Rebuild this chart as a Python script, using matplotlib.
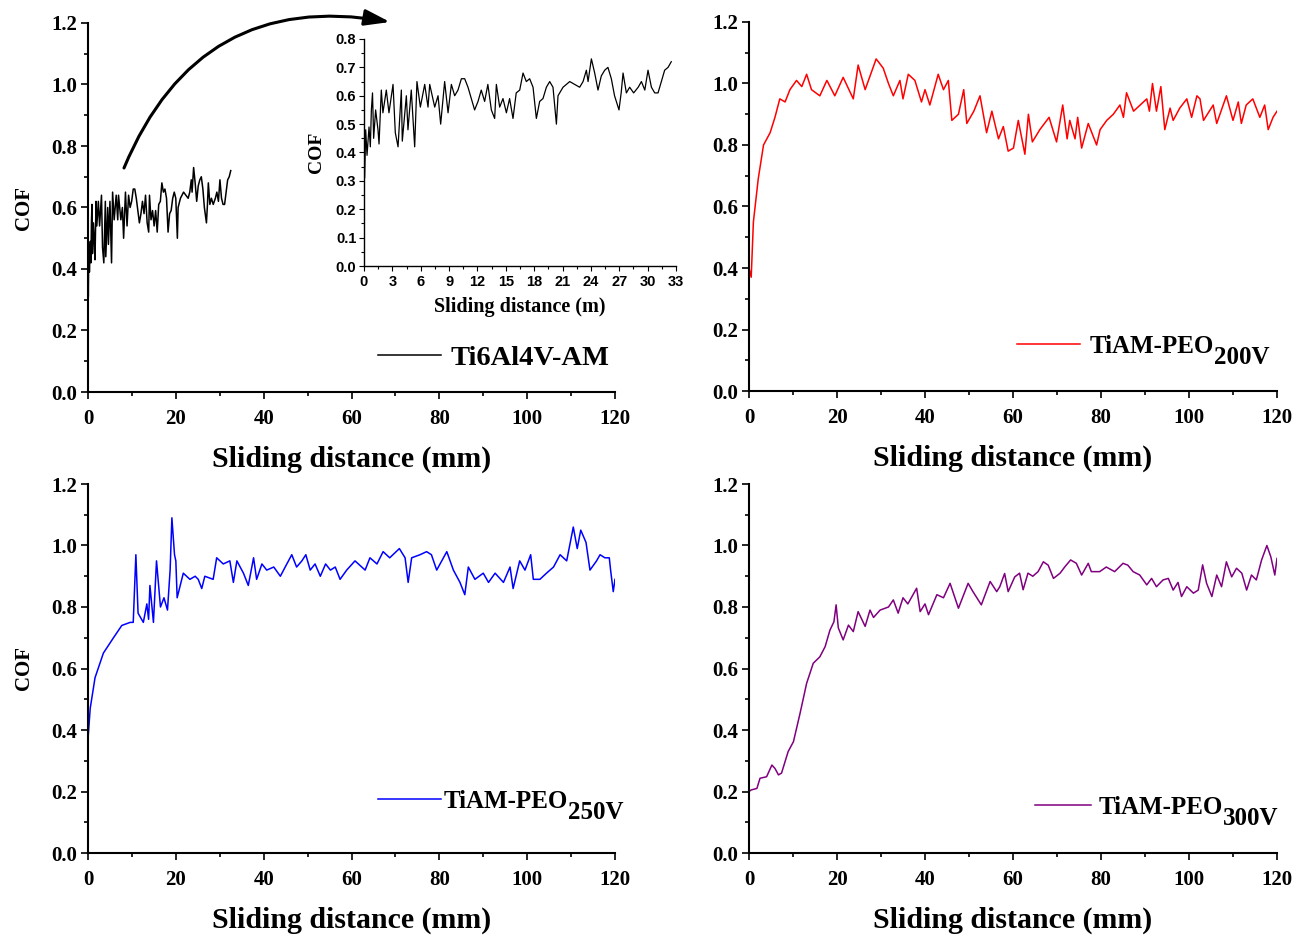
import matplotlib
matplotlib.use('Agg')
import matplotlib.pyplot as plt
from matplotlib.patches import FancyArrowPatch
from matplotlib.ticker import MultipleLocator

# Ti6Al4V-AM: sliding distance (mm) and COF (same trace is zoomed in the inset)
am_x = [0.0, 0.07, 0.18, 0.32, 0.53, 0.67, 0.78, 0.9, 1.02, 1.23,
        1.48, 1.59, 1.83, 2.0, 2.36, 2.64, 3.07, 3.31, 3.6, 3.95,
        4.05, 4.48, 4.65, 5.0, 5.36, 5.6, 5.96, 6.42, 6.77, 6.95,
        7.48, 7.83, 8.11, 8.53, 8.89, 9.24, 9.59, 9.94, 10.3, 10.65,
        11.0, 11.35, 11.7, 12.06, 12.4, 12.76, 13.1, 13.47, 13.82, 14.0,
        14.35, 14.7, 15.06, 15.4, 15.76, 16.1, 16.47, 16.82, 17.17, 17.52,
        17.88, 18.23, 18.58, 18.93, 19.29, 19.64, 19.99, 20.35, 20.52, 21.05,
        21.76, 22.28, 22.81, 23.17, 23.52, 23.7, 24.05, 24.4, 24.75, 25.1,
        25.46, 25.8, 26.16, 26.5, 26.97, 27.2, 27.4, 27.75, 28.1, 28.52,
        29.0, 29.34, 29.7, 30.04, 30.4, 30.75, 31.1, 31.45, 31.8, 32.16,
        32.5]
am_cof = [0.45, 0.31, 0.48, 0.39, 0.49, 0.42, 0.55, 0.61, 0.45, 0.55,
          0.48, 0.43, 0.62, 0.54, 0.62, 0.54, 0.64, 0.47, 0.42, 0.62,
          0.44, 0.60, 0.48, 0.62, 0.42, 0.65, 0.56, 0.64, 0.56, 0.64,
          0.56, 0.60, 0.50, 0.65, 0.54, 0.64, 0.60, 0.62, 0.66, 0.66,
          0.63, 0.59, 0.55, 0.58, 0.62, 0.58, 0.64, 0.55, 0.52, 0.64,
          0.56, 0.59, 0.54, 0.59, 0.52, 0.61, 0.62, 0.68, 0.65, 0.66,
          0.63, 0.52, 0.58, 0.59, 0.63, 0.65, 0.63, 0.50, 0.60, 0.63,
          0.65, 0.64, 0.63, 0.65, 0.69, 0.65, 0.73, 0.68, 0.62, 0.67,
          0.69, 0.70, 0.66, 0.60, 0.55, 0.61, 0.68, 0.61, 0.63, 0.61,
          0.63, 0.65, 0.62, 0.69, 0.63, 0.61, 0.61, 0.65, 0.69, 0.70,
          0.72]

# TiAM-PEO 200V
p200_x = [0, 0.5, 1.0, 2.1, 3.3, 4.8, 5.9, 7.0, 8.2, 9.3,
          10.8, 12.0, 13.1, 14.2, 16.1, 17.7, 19.5, 21.4, 23.7, 24.8,
          26.4, 27.9, 28.9, 30.5, 31.7, 32.8, 34.3, 35.0, 36.2, 37.7,
          39.2, 40.0, 41.1, 43.0, 44.2, 45.3, 46.1, 47.6, 48.8, 49.5,
          51.1, 52.5, 54.0, 55.2, 56.7, 57.8, 58.9, 60.1, 61.2, 62.7,
          63.5, 64.4, 66.1, 68.2, 69.9, 71.3, 72.3, 72.9, 74.1, 74.7,
          75.6, 77.1, 79.0, 79.8, 81.3, 82.8, 84.3, 85.1, 85.8, 87.4,
          88.9, 90.4, 91.0, 91.7, 92.6, 93.6, 94.5, 95.7, 96.4, 97.9,
          99.5, 100.6, 101.8, 102.5, 103.3, 105.5, 106.3, 108.5, 110.0, 111.2,
          111.9, 113.0, 114.5, 116.1, 117.2, 118.0, 119.1, 120.0]
p200_cof = [0.40, 0.37, 0.55, 0.69, 0.80, 0.84, 0.89, 0.95, 0.94, 0.98,
            1.01, 0.99, 1.03, 0.98, 0.96, 1.01, 0.96, 1.02, 0.95, 1.06,
            0.98, 1.04, 1.08, 1.05, 1.00, 0.96, 1.01, 0.95, 1.03, 1.01,
            0.94, 0.98, 0.93, 1.03, 0.98, 1.01, 0.88, 0.90, 0.98, 0.87,
            0.91, 0.96, 0.84, 0.91, 0.82, 0.86, 0.78, 0.79, 0.88, 0.77,
            0.90, 0.81, 0.85, 0.89, 0.81, 0.93, 0.82, 0.88, 0.82, 0.89,
            0.79, 0.87, 0.80, 0.85, 0.88, 0.90, 0.93, 0.89, 0.97, 0.91,
            0.93, 0.95, 0.91, 1.00, 0.91, 0.99, 0.85, 0.92, 0.88, 0.92,
            0.95, 0.89, 0.96, 0.95, 0.88, 0.93, 0.87, 0.96, 0.88, 0.94,
            0.87, 0.93, 0.95, 0.89, 0.93, 0.85, 0.89, 0.91]

# TiAM-PEO 250V
p250_x = [0, 0.5, 1.6, 3.5, 5.8, 7.7, 9.6, 10.3, 10.9, 11.4,
          12.6, 13.4, 13.8, 14.1, 14.9, 15.6, 16.5, 17.3, 18.1, 18.7,
          19.1, 19.7, 20.0, 20.3, 21.7, 23.2, 24.4, 25.1, 25.9, 26.6,
          28.5, 29.3, 30.8, 32.3, 33.1, 33.9, 35.4, 36.5, 37.7, 38.4,
          39.6, 40.7, 42.3, 43.8, 44.9, 46.4, 47.5, 48.7, 49.6, 50.6,
          51.7, 52.9, 54.1, 55.2, 56.3, 57.4, 58.9, 60.8, 63.1, 64.2,
          65.8, 67.2, 68.7, 70.9, 72.2, 72.9, 73.7, 75.6, 77.1, 78.2,
          79.4, 81.7, 83.2, 84.7, 85.8, 86.6, 88.1, 90.0, 91.2, 92.7,
          94.6, 96.1, 96.8, 98.3, 99.5, 100.8, 101.4, 102.9, 104.4, 106.0,
          107.5, 109.0, 110.5, 111.4, 112.2, 113.4, 114.3, 115.8, 116.6, 117.7,
          118.7, 119.0, 119.6, 120.0]
p250_cof = [0.37, 0.47, 0.57, 0.65, 0.70, 0.74, 0.75, 0.75, 0.97, 0.78,
            0.75, 0.81, 0.76, 0.87, 0.75, 0.95, 0.80, 0.83, 0.79, 0.92,
            1.09, 0.97, 0.95, 0.83, 0.91, 0.89, 0.90, 0.89, 0.86, 0.90,
            0.89, 0.96, 0.94, 0.95, 0.88, 0.95, 0.91, 0.87, 0.96, 0.89,
            0.94, 0.92, 0.93, 0.90, 0.93, 0.97, 0.93, 0.95, 0.97, 0.92,
            0.94, 0.90, 0.94, 0.92, 0.93, 0.89, 0.92, 0.95, 0.92, 0.96,
            0.94, 0.98, 0.96, 0.99, 0.96, 0.88, 0.96, 0.97, 0.98, 0.97,
            0.92, 0.98, 0.92, 0.88, 0.84, 0.93, 0.89, 0.91, 0.88, 0.91,
            0.88, 0.93, 0.86, 0.95, 0.92, 0.97, 0.89, 0.89, 0.91, 0.93,
            0.97, 0.95, 1.06, 0.99, 1.05, 1.01, 0.92, 0.95, 0.97, 0.96,
            0.96, 0.92, 0.85, 0.89]

# TiAM-PEO 300V
p300_x = [0, 0.5, 1.8, 2.5, 4.0, 5.2, 5.9, 6.7, 7.4, 8.9,
          10.1, 11.6, 13.1, 14.6, 16.1, 17.3, 18.4, 19.3, 19.8, 20.3,
          21.4, 22.6, 23.7, 24.8, 26.4, 27.5, 28.3, 29.8, 31.7, 32.8,
          33.9, 35.0, 36.1, 38.1, 38.9, 40.0, 40.8, 42.7, 44.2, 45.7,
          47.6, 49.8, 50.9, 52.8, 54.8, 56.3, 57.0, 58.1, 58.9, 60.4,
          61.5, 62.3, 63.4, 64.5, 65.7, 66.9, 68.0, 69.2, 70.7, 71.8,
          73.1, 74.4, 75.6, 77.1, 77.8, 79.7, 81.2, 83.1, 85.0, 86.1,
          87.3, 88.8, 90.4, 91.5, 92.6, 94.1, 95.3, 96.4, 97.5, 98.3,
          99.5, 101.0, 102.1, 103.1, 104.0, 105.2, 106.3, 107.4, 108.5, 109.7,
          110.8, 112.0, 113.1, 114.2, 115.3, 116.5, 117.7, 118.6, 119.5, 120.0]
p300_cof = [0.20, 0.205, 0.21, 0.243, 0.248, 0.286, 0.275, 0.254, 0.26, 0.33,
            0.362, 0.454, 0.552, 0.617, 0.638, 0.671, 0.725, 0.752, 0.807, 0.732,
            0.693, 0.741, 0.72, 0.785, 0.737, 0.79, 0.766, 0.79, 0.80, 0.823,
            0.78, 0.83, 0.81, 0.861, 0.785, 0.81, 0.775, 0.84, 0.83, 0.877,
            0.796, 0.877, 0.85, 0.807, 0.883, 0.85, 0.866, 0.909, 0.85, 0.898,
            0.91, 0.856, 0.91, 0.90, 0.915, 0.947, 0.936, 0.893, 0.91, 0.931,
            0.953, 0.942, 0.904, 0.942, 0.915, 0.915, 0.93, 0.915, 0.942, 0.936,
            0.915, 0.904, 0.872, 0.893, 0.866, 0.888, 0.893, 0.855, 0.88, 0.834,
            0.866, 0.845, 0.855, 0.937, 0.877, 0.834, 0.904, 0.866, 0.947, 0.898,
            0.926, 0.91, 0.855, 0.904, 0.888, 0.953, 1.0, 0.963, 0.904, 0.958]

plt.rcParams['font.family'] = ['Liberation Serif', 'DejaVu Serif']
plt.rcParams['font.weight'] = 'bold'
plt.rcParams['axes.labelweight'] = 'bold'

W, H = 1304, 938
fig = plt.figure(figsize=(W / 100, H / 100), dpi=100)


def px_rect(x0, x1, ytop, ybot):
    # axes rectangle from pixel edges of the reference
    return [x0 / W, 1 - ybot / H, (x1 - x0) / W, (ybot - ytop) / H]


def main_panel(rect, x, y, color, ylabel=True):
    ax = fig.add_axes(rect)
    line, = ax.plot(x, y, color=color, lw=1.1)
    ax.set_xlim(0, 120)
    ax.set_ylim(0, 1.2)
    ax.xaxis.set_major_locator(MultipleLocator(20))
    ax.xaxis.set_minor_locator(MultipleLocator(10))
    ax.yaxis.set_major_locator(MultipleLocator(0.2))
    ax.yaxis.set_minor_locator(MultipleLocator(0.1))
    ax.yaxis.set_major_formatter('{x:.1f}')
    for s in ['top', 'right']:
        ax.spines[s].set_visible(False)
    for s in ['left', 'bottom']:
        ax.spines[s].set_linewidth(1.5)
    ax.tick_params(which='major', direction='out', length=5, width=1.2,
                   labelsize=15)
    ax.tick_params(which='minor', direction='out', length=3, width=1.2)
    ax.tick_params(axis='x', which='major', pad=7)
    ax.tick_params(axis='y', which='major', pad=3)
    ax.set_xlabel('Sliding distance (mm)', fontsize=21.5, labelpad=12)
    if ylabel:
        ax.set_ylabel('COF', fontsize=15, labelpad=12)
    return ax, line


def add_legend(ax, line, label, x0, y0, fs, hl, pad):
    leg = ax.legend([line], [label], loc='center left',
                    bbox_to_anchor=(x0 / W, 1 - y0 / H),
                    bbox_transform=fig.transFigure, frameon=False,
                    fontsize=fs, handlelength=hl, handletextpad=pad,
                    borderpad=0, borderaxespad=0)
    return leg


ax1, l1 = main_panel(px_rect(88, 615, 23, 392), am_x, am_cof, 'black')
ax2, l2 = main_panel(px_rect(749, 1277, 22, 391), p200_x, p200_cof, '#ff0000', ylabel=False)
ax3, l3 = main_panel(px_rect(88, 615, 484, 853), p250_x, p250_cof, '#0000ff')
ax4, l4 = main_panel(px_rect(749, 1277, 484, 853), p300_x, p300_cof, '#800080', ylabel=False)

add_legend(ax1, l1, 'Ti6Al4V-AM', 378, 358, 20.5, 2.2, 0.35)
leg2 = add_legend(ax2, l2, 'TiAM-PEO', 1017, 346, 18, 2.5, 0.4)
leg3 = add_legend(ax3, l3, 'TiAM-PEO', 378, 801, 18, 2.5, 0.12)
leg4 = add_legend(ax4, l4, 'TiAM-PEO', 1035, 807, 18, 2.25, 0.28)

# inset: zoom of the Ti6Al4V-AM trace
axin = fig.add_axes(px_rect(364, 676, 39, 266))
axin.plot(am_x, am_cof, color='black', lw=0.9)
axin.set_xlim(0, 33)
axin.set_ylim(0, 0.8)
axin.xaxis.set_major_locator(MultipleLocator(3))
axin.xaxis.set_minor_locator(MultipleLocator(1.5))
axin.yaxis.set_major_locator(MultipleLocator(0.1))
axin.yaxis.set_minor_locator(MultipleLocator(0.05))
axin.yaxis.set_major_formatter('{x:.1f}')
for s in ['top', 'right']:
    axin.spines[s].set_visible(False)
for s in ['left', 'bottom']:
    axin.spines[s].set_linewidth(1.0)
axin.tick_params(which='major', direction='out', length=3.5, width=0.8,
                 labelsize=10.5, pad=2)
axin.tick_params(axis='x', which='major', pad=3)
axin.tick_params(which='minor', direction='out', length=2, width=0.8)
for t in axin.get_xticklabels() + axin.get_yticklabels():
    t.set_family('Liberation Sans')
    t.set_weight('bold')
axin.set_xlabel('Sliding distance (m)', fontsize=14.5, labelpad=6)
axin.set_ylabel('COF', fontsize=14, labelpad=8)

# curved arrow from the main trace to the inset
arrow = FancyArrowPatch((124 / W, 1 - 168 / H), (390 / W, 1 - 22 / H),
                        transform=fig.transFigure,
                        connectionstyle='arc3,rad=-0.4',
                        arrowstyle='-|>,head_length=1.1,head_width=0.35',
                        mutation_scale=14, lw=2.2, color='black',
                        shrinkA=0, shrinkB=0)
fig.patches.append(arrow)

# subscripts after the legend texts
fig.canvas.draw()
renderer = fig.canvas.get_renderer()
for leg, sub in [(leg2, '200V'), (leg3, '250V'), (leg4, '300V')]:
    t = leg.get_texts()[0]
    bb = t.get_window_extent(renderer)
    fig.text(bb.x1 / W, (bb.y0 - 11) / H, sub, fontsize=18,
             ha='left', va='bottom')

fig.savefig('out.png', dpi=100)
